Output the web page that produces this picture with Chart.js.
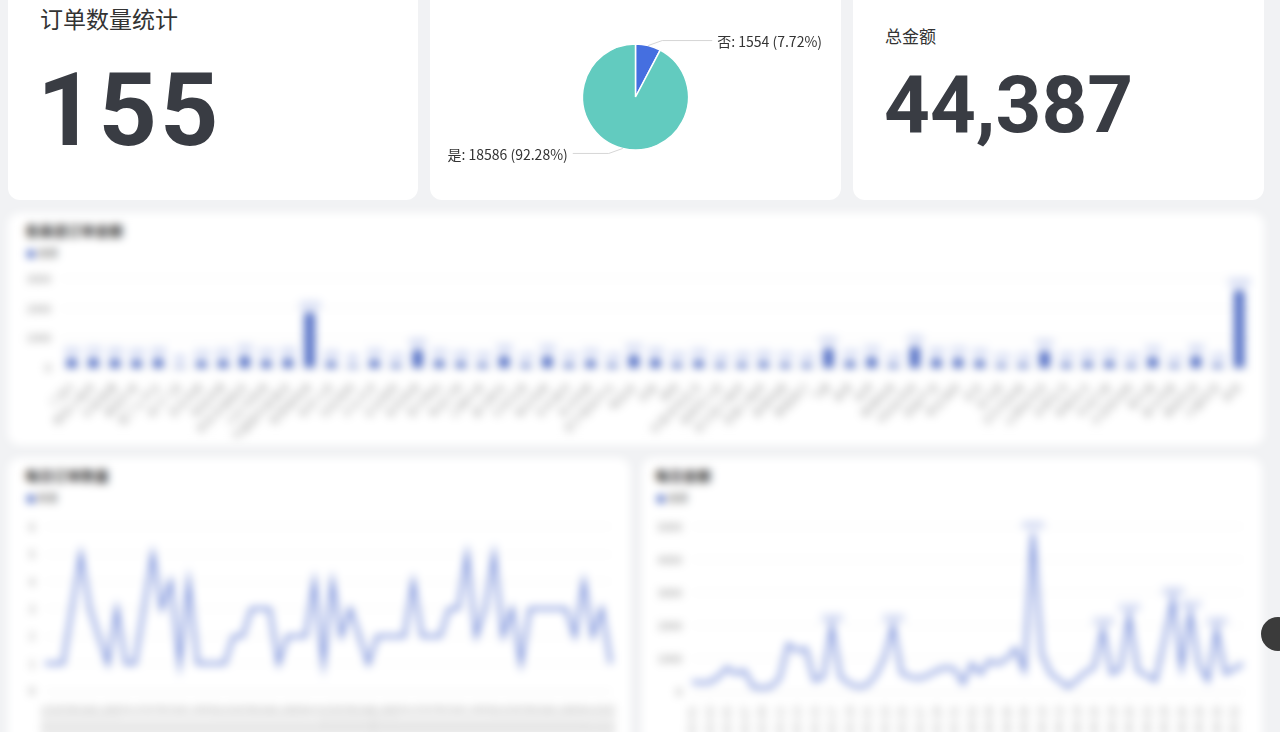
<!DOCTYPE html>
<html lang="zh-CN">
<head>
<meta charset="utf-8">
<title>订单看板</title>
<script src="https://cdn.jsdelivr.net/npm/chart.js@4.4.0/dist/chart.umd.min.js"></script>
<style>
html, body { margin: 0; padding: 0; }
body {
    width: 1280px; height: 732px; overflow: hidden; position: relative;
    background: #f1f2f4;
    font-family: "Noto Sans CJK SC", "Noto Sans", sans-serif;
}
.card { position: absolute; background: #fff; border-radius: 12px; overflow: hidden; }
.blurred { filter: blur(4px); }
#card_count { left: 8px; top: -20px; width: 410px; height: 220px; }
#card_pie { left: 430px; top: -20px; width: 411px; height: 220px; }
#card_total { left: 853px; top: -20px; width: 411px; height: 220px; }
#card_channel { left: 8px; top: 213px; width: 1256px; height: 232px; }
#card_daily_count { left: 8px; top: 458px; width: 622px; height: 320px; }
#card_daily_amount { left: 642px; top: 458px; width: 620px; height: 320px; }
.stat_title { position: absolute; color: #333; white-space: nowrap; }
.stat_value { position: absolute; font-family: Roboto, sans-serif; font-weight: 700; color: #393c43; line-height: 1; white-space: nowrap; }
.chart_title { position: absolute; left: 17px; top: 10px; font-size: 14px; font-weight: 700; color: #333; line-height: 14px; }
.legend { position: absolute; left: 19px; top: 35px; font-size: 10px; color: #666; line-height: 10px; }
.legend i { display: inline-block; width: 8px; height: 8px; border-radius: 2px; background: #5470c6; margin-right: 3px; vertical-align: -1px; }
canvas { position: absolute; }
#fab { position: absolute; left: 1261px; top: 617px; width: 34px; height: 34px; border-radius: 50%; background: #3b3b3b; }
</style>
</head>
<body>

<div class="card" id="card_count">
    <div class="stat_title" style="left:32px; top:27px; font-size:23px; line-height:23px;">订单数量统计</div>
    <div class="stat_value" id="count_value" style="left:29px; top:79px; font-size:102px; letter-spacing:3px;"></div>
</div>

<div class="card" id="card_pie">
    <canvas id="pie_chart" width="411" height="220" style="left:0; top:0;"></canvas>
</div>

<div class="card" id="card_total">
    <div class="stat_title" style="left:32px; top:47px; font-size:17px; line-height:17px;">总金额</div>
    <div class="stat_value" id="total_value" style="left:31px; top:85px; font-size:80px;"></div>
</div>

<div class="card blurred" id="card_channel">
    <div class="chart_title">各渠道订单金额</div>
    <div class="legend"><i></i>金额</div>
    <canvas id="channel_chart" width="1236" height="183" style="left:12px; top:49px;"></canvas>
</div>

<div class="card blurred" id="card_daily_count">
    <div class="chart_title">每日订单数量</div>
    <div class="legend"><i></i>数量</div>
    <canvas id="daily_count_chart" width="610" height="252" style="left:12px; top:52px;"></canvas>
</div>

<div class="card blurred" id="card_daily_amount">
    <div class="chart_title" style="left:13px;">每日金额</div>
    <div class="legend" style="left:15px;"><i></i>金额</div>
    <canvas id="daily_amount_chart" width="610" height="253" style="left:10px; top:52px;"></canvas>
</div>

<div id="fab"></div>

<script>
// headline numbers
var order_count = 155;
var total_amount = 44387;

// pie: paid or not
var pie_labels = ["否", "是"];
var pie_values = [1554, 18586];
var pie_colors = ["#456fe0", "#62cbbf"];

// amount per channel
var channel_names = ["门店A", "微信小程序", "抖音直播", "美团外卖", "饿了么平台", "线下门店", "京东到家", "淘宝店铺",
    "拼多多旗舰店", "小红书商城", "天猫超市直营店", "有赞微商城", "快手小店", "社区团购", "大众点评", "企业团购",
    "会员商城", "官方网站", "电话订购", "口碑外卖", "盒马鲜生", "叮咚买菜", "每日优鲜", "朴朴超市", "多点到家",
    "苏宁易购平台", "唯品会", "闲鱼", "得物", "抖音本地生活", "视频号小店", "支付宝小程序", "百度小程序", "高德地图",
    "携程旅行", "飞猪", "滴滴", "哈啰", "微博商城", "B站会员购", "网易严选", "考拉海购", "当当", "亚马逊",
    "沃尔玛到家", "山姆会员店", "永辉生活", "物美多点", "华润万家", "大润发优鲜", "家乐福", "盒马邻里", "美团优选",
    "兴盛优选", "其他"];
var channel_amounts = [300, 320, 280, 260, 300, 60, 220, 260, 380, 250,
    300, 1850, 200, 80, 260, 120, 600, 250, 200, 150,
    380, 120, 380, 150, 250, 120, 420, 300, 160, 250,
    140, 160, 200, 150, 130, 650, 220, 350, 120, 700,
    300, 320, 250, 120, 130, 550, 160, 200, 220, 120,
    350, 110, 380, 120, 2600];
var channel_ticks = [0, 1000, 2000, 3000];

// daily series
var order_dates = ["2024-03-01", "2024-03-02", "2024-03-03", "2024-03-04", "2024-03-05", "2024-03-06", "2024-03-07", "2024-03-08",
    "2024-03-09", "2024-03-10", "2024-03-11", "2024-03-12", "2024-03-13", "2024-03-14", "2024-03-15", "2024-03-16",
    "2024-03-17", "2024-03-18", "2024-03-19", "2024-03-20", "2024-03-21", "2024-03-22", "2024-03-23", "2024-03-24",
    "2024-03-25", "2024-03-26", "2024-03-27", "2024-03-28", "2024-03-29", "2024-03-30", "2024-03-31", "2024-04-01",
    "2024-04-02", "2024-04-03", "2024-04-04", "2024-04-05", "2024-04-06", "2024-04-07", "2024-04-08", "2024-04-09",
    "2024-04-10", "2024-04-11", "2024-04-12", "2024-04-13", "2024-04-14", "2024-04-15", "2024-04-16", "2024-04-17",
    "2024-04-18", "2024-04-19", "2024-04-20", "2024-04-21", "2024-04-22", "2024-04-23", "2024-04-24", "2024-04-25",
    "2024-04-26", "2024-04-27", "2024-04-28", "2024-04-29", "2024-04-30", "2024-05-01", "2024-05-02", "2024-05-03"];
var daily_counts = [1, 1, 1, 3, 5, 3, 2, 1, 3, 1,
    1, 3, 5, 3, 4, 1, 4, 1, 1, 1,
    1, 2, 2, 3, 3, 3, 1, 2, 2, 2,
    4, 1, 4, 2, 3, 2, 1, 2, 2, 2,
    2, 4, 2, 2, 2, 3, 3, 5, 2, 3,
    5, 2, 3, 1, 3, 3, 3, 3, 3, 2,
    4, 2, 3, 1];
var daily_amounts = [300, 280, 290, 450, 735, 560, 650, 150, 120, 150,
    400, 1450, 1250, 1320, 350, 450, 2000, 450, 250, 150,
    200, 500, 1030, 2000, 560, 450, 410, 500, 650, 740,
    700, 265, 850, 560, 940, 850, 1000, 1320, 650, 4800,
    1150, 560, 350, 150, 350, 600, 740, 1900, 560, 700,
    2320, 650, 500, 350, 1530, 2800, 740, 2410, 800, 350,
    1900, 560, 700, 850];

var main_blue = "#5470c6";
var axis_font = { family: '"Noto Sans CJK SC", sans-serif', size: 11 };

Chart.defaults.animation = false;
Chart.defaults.responsive = false;
Chart.defaults.plugins.legend.display = false;
Chart.defaults.plugins.tooltip.enabled = false;

document.getElementById("count_value").textContent = order_count.toLocaleString("en-US");
document.getElementById("total_value").textContent = total_amount.toLocaleString("en-US");

function Fixed_Size(size) {
    return function(scale) {
        if (scale.isHorizontal()) {
            scale.height = size;
        } else {
            scale.width = size;
        }
    };
}

// leader lines and texts around the pie
const pie_label_plugin = {
    id: "pie_labels",
    afterDatasetsDraw(chart) {
        var ctx = chart.ctx;
        var meta = chart.getDatasetMeta(0);
        var total = pie_values.reduce(function(a, b) { return a + b; }, 0);
        ctx.save();
        ctx.font = '14px "Noto Sans CJK SC", sans-serif';
        ctx.textBaseline = "middle";
        ctx.fillStyle = "#333";
        ctx.strokeStyle = "#d6d6d6";
        ctx.lineWidth = 1;
        for (var i = 0; i < meta.data.length; i++) {
            var p = meta.data[i].getProps(["x", "y", "startAngle", "endAngle", "outerRadius"], true);
            var mid = (p.startAngle + p.endAngle) / 2;
            var right = Math.cos(mid) >= 0;
            var side = right ? 1 : -1;
            var x1 = p.x + Math.cos(mid) * p.outerRadius;
            var y1 = p.y + Math.sin(mid) * p.outerRadius;
            var x2 = x1 + side * 14;
            var y2 = y1 + (Math.sin(mid) > 0 ? 5 : -5);
            var x3 = x2 + side * (right ? 50 : 36);
            ctx.beginPath();
            ctx.moveTo(x1, y1);
            ctx.lineTo(x2, y2);
            ctx.lineTo(x3, y2);
            ctx.stroke();
            var pct = (pie_values[i] / total * 100).toFixed(2);
            var text = pie_labels[i] + ": " + pie_values[i] + " (" + pct + "%)";
            ctx.textAlign = right ? "left" : "right";
            ctx.fillText(text, x3 + side * 5, y2 + 1);
        }
        ctx.restore();
    }
};

new Chart(document.getElementById("pie_chart"), {
    type: "pie",
    data: {
        labels: pie_labels,
        datasets: [{
            data: pie_values,
            backgroundColor: pie_colors,
            borderColor: "#fff",
            borderWidth: 1.5,
            radius: 53
        }]
    },
    options: {
        layout: { padding: { top: 14 } }
    },
    plugins: [pie_label_plugin]
});

// value texts above bars / peaks
function Value_Label_Plugin(min_value) {
    return {
        id: "value_labels",
        afterDatasetsDraw(chart) {
            var ctx = chart.ctx;
            var meta = chart.getDatasetMeta(0);
            var values = chart.data.datasets[0].data;
            ctx.save();
            ctx.font = '10px "Noto Sans CJK SC", sans-serif';
            ctx.fillStyle = "#8da0e0";
            ctx.textAlign = "center";
            ctx.textBaseline = "bottom";
            for (var i = 0; i < meta.data.length; i++) {
                if (values[i] < min_value) continue;
                var el = meta.data[i];
                ctx.fillText(values[i], el.x, el.y - 3);
            }
            ctx.restore();
        }
    };
}

function Y_Axis(ticks, width) {
    return {
        min: ticks[0],
        max: ticks[ticks.length - 1],
        ticks: {
            stepSize: ticks[1] - ticks[0], color: "#888", font: axis_font, padding: 10,
            callback: function(value) { return String(value); }
        },
        grid: { color: "#f0f0f0", drawTicks: false },
        border: { display: false },
        afterFit: Fixed_Size(width)
    };
}

new Chart(document.getElementById("channel_chart"), {
    type: "bar",
    data: {
        labels: channel_names,
        datasets: [{
            label: "金额",
            data: channel_amounts,
            backgroundColor: main_blue,
            barThickness: 10
        }]
    },
    options: {
        layout: { padding: { top: 15, right: 6, bottom: 7, left: 0 } },
        scales: {
            x: {
                ticks: { color: "#aaa", font: axis_font, minRotation: 45, maxRotation: 45, autoSkip: false, padding: 4 },
                grid: { display: false },
                border: { color: "#e6e6e6" },
                afterFit: Fixed_Size(70)
            },
            y: Y_Axis(channel_ticks, 41)
        }
    },
    plugins: [Value_Label_Plugin(0)]
});

new Chart(document.getElementById("daily_count_chart"), {
    type: "line",
    data: {
        labels: order_dates,
        datasets: [{
            label: "数量",
            data: daily_counts,
            borderColor: "#6b84d6",
            borderWidth: 3,
            pointRadius: 0,
            tension: 0
        }]
    },
    options: {
        layout: { padding: { top: 11, right: 18, bottom: 1, left: 0 } },
        scales: {
            x: {
                offset: false,
                ticks: { color: "#aaa", font: axis_font, minRotation: 90, maxRotation: 90, autoSkip: false, padding: 6 },
                grid: { display: false },
                border: { color: "#e6e6e6" },
                afterFit: Fixed_Size(70)
            },
            y: Y_Axis([0, 1, 2, 3, 4, 5, 6], 25)
        }
    }
});

new Chart(document.getElementById("daily_amount_chart"), {
    type: "line",
    data: {
        labels: order_dates,
        datasets: [{
            label: "金额",
            data: daily_amounts,
            borderColor: "#6b84d6",
            borderWidth: 3,
            pointRadius: 0,
            tension: 0
        }]
    },
    options: {
        layout: { padding: { top: 11, right: 17, bottom: 1, left: 0 } },
        scales: {
            x: {
                offset: false,
                ticks: {
                    color: "#aaa", font: axis_font, minRotation: 90, maxRotation: 90, autoSkip: false, padding: 6,
                    callback: function(value, index) { return index % 2 == 0 ? this.getLabelForValue(value) : ""; }
                },
                grid: { display: false },
                border: { color: "#e6e6e6" },
                afterFit: Fixed_Size(70)
            },
            y: Y_Axis([0, 1000, 2000, 3000, 4000, 5000], 40)
        }
    },
    plugins: [Value_Label_Plugin(1800)]
});
</script>
</body>
</html>
